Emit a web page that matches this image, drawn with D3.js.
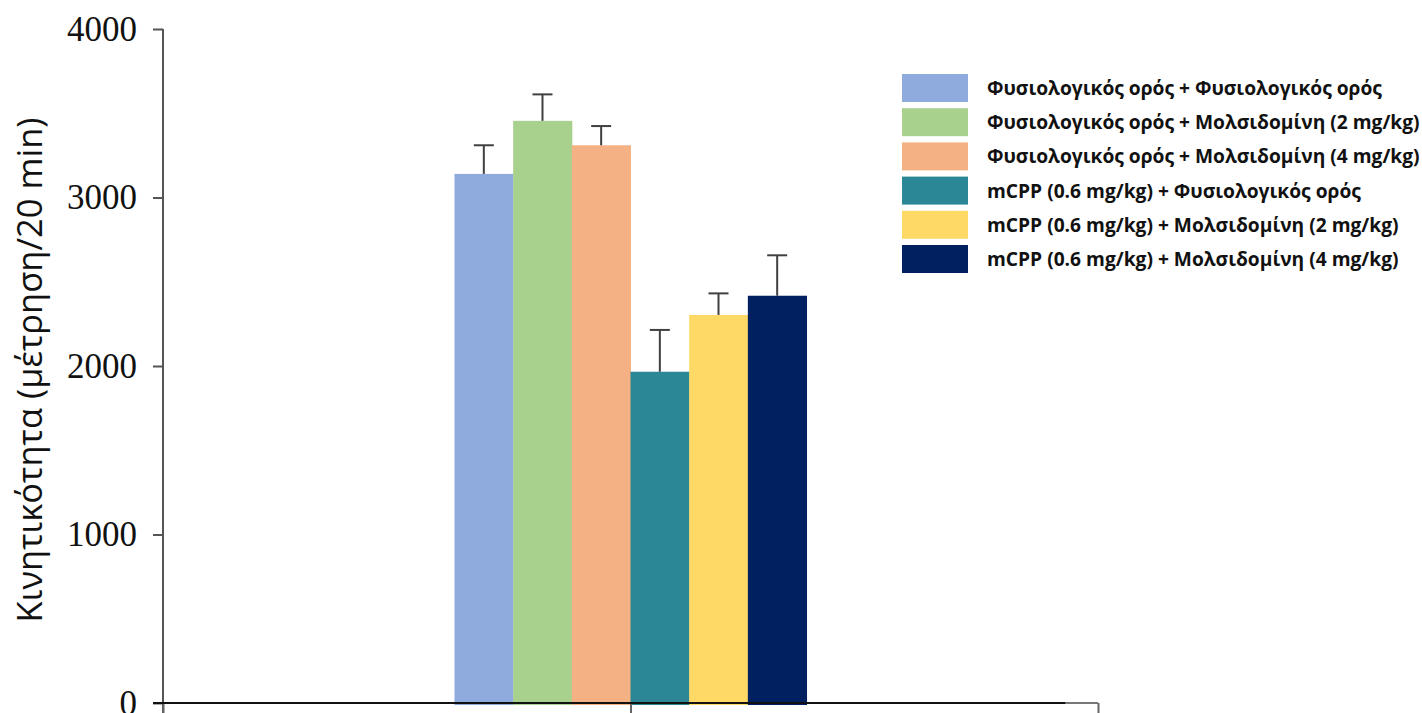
<!DOCTYPE html>
<html>
<head>
<meta charset="utf-8">
<script src="https://cdn.jsdelivr.net/npm/d3@7"></script>
<style>
  html, body { margin: 0; padding: 0; background: #ffffff; }
  svg { display: block; }
</style>
</head>
<body>
<svg id="chart" width="1422" height="713"></svg>
<script>
// Treatment groups, mean locomotor activity and SEM
const groups = [
  "Φυσιολογικός ορός + Φυσιολογικός ορός",
  "Φυσιολογικός ορός + Μολσιδομίνη (2 mg/kg)",
  "Φυσιολογικός ορός + Μολσιδομίνη (4 mg/kg)",
  "mCPP (0.6 mg/kg) + Φυσιολογικός ορός",
  "mCPP (0.6 mg/kg) + Μολσιδομίνη (2 mg/kg)",
  "mCPP (0.6 mg/kg) + Μολσιδομίνη (4 mg/kg)"
];
const means = [3140, 3455, 3310, 1966, 2303, 2417];
const sem = [170, 157, 114, 248, 128, 240];
const colors = ["#8FAADC", "#A9D18E", "#F4B183", "#2B8795", "#FFD966", "#002060"];
const yTicks = [0, 1000, 2000, 3000, 4000];
const yLabel = "Κινητικότητα (μέτρηση/20 min)";

const svg = d3.select("#chart");
const margin = { left: 163, right: 324, top: 29, bottom: 10 };
const W = 1422, H = 713;
const plotRight = W - margin.right;
const plotBottom = H - margin.bottom;

const y = d3.scaleLinear().domain([0, 4000]).range([plotBottom, margin.top]);
// outer category axis: three tick positions, the bar cluster sits on the middle one
const x0 = d3.scaleLinear().domain([0, 2]).range([margin.left, plotRight]);
const clusterWidth = (plotRight - margin.left) * 0.3765;
const x = d3.scaleBand()
  .domain(groups)
  .range([x0(1) - clusterWidth / 2, x0(1) + clusterWidth / 2])
  .padding(0);

// bars
svg.append("g").selectAll("rect")
  .data(groups)
  .join("rect")
  .attr("x", d => x(d))
  .attr("width", x.bandwidth() + 0.5)
  .attr("y", (d, i) => y(means[i]))
  .attr("height", (d, i) => y(0) - y(means[i]) + 2)
  .attr("fill", (d, i) => colors[i]);

// upper error whiskers
const err = svg.append("g").attr("stroke", "#404040").attr("stroke-width", 2);
groups.forEach((g, i) => {
  const cx = x(g) + x.bandwidth() / 2;
  err.append("line")
    .attr("x1", cx).attr("x2", cx)
    .attr("y1", y(means[i])).attr("y2", y(means[i] + sem[i]));
  err.append("line")
    .attr("x1", cx - 10).attr("x2", cx + 10)
    .attr("y1", y(means[i] + sem[i])).attr("y2", y(means[i] + sem[i]));
});

// y axis
const yAxis = svg.append("g")
  .attr("transform", `translate(${margin.left},0)`)
  .call(d3.axisLeft(y).tickValues(yTicks).tickSize(10).tickPadding(16).tickFormat(d3.format("d")));
yAxis.select(".domain").attr("stroke", "#555").attr("stroke-width", 2)
  .attr("d", `M-0,${margin.top}V${H}`);
yAxis.selectAll(".tick line").attr("stroke", "#555").attr("stroke-width", 2);
yAxis.selectAll(".tick text")
  .attr("fill", "#111")
  .style("font-family", "'Liberation Serif', 'DejaVu Serif', serif")
  .style("font-size", "35px");

// x axis
const xAxis = svg.append("g")
  .attr("transform", `translate(0,${y(0)})`)
  .call(d3.axisBottom(x0).tickValues([0, 1, 2]).tickSize(12).tickFormat(""));
xAxis.select(".domain").attr("stroke", "#777").attr("stroke-width", 2)
  .attr("d", `M${margin.left},0H${plotRight}`);
xAxis.selectAll(".tick line").attr("stroke", "#666").attr("stroke-width", 2);
// dark baseline across the plot
svg.append("line")
  .attr("x1", margin.left - 10).attr("x2", x0(1.93))
  .attr("y1", y(0)).attr("y2", y(0))
  .attr("stroke", "#111").attr("stroke-width", 2.2);

// y axis title
svg.append("text")
  .attr("transform", `translate(42,${(y(0) + y(4000)) / 2 + 4}) rotate(-90)`)
  .attr("text-anchor", "middle")
  .style("font-family", "'Open Sans', 'Noto Sans', sans-serif")
  .style("font-size", "34.5px")
  .attr("fill", "#111")
  .text(yLabel);

// legend
const legend = svg.append("g").attr("transform", "translate(902,74)");
const item = legend.selectAll("g")
  .data(groups)
  .join("g")
  .attr("transform", (d, i) => `translate(0,${i * 34.2})`);
item.append("rect")
  .attr("width", 66).attr("height", 28)
  .attr("fill", (d, i) => colors[i]);
item.append("text")
  .attr("x", 85).attr("y", 14).attr("dy", "0.36em")
  .style("font-family", "'Open Sans', 'Noto Sans', sans-serif")
  .style("font-weight", "bold")
  .style("font-size", "19.2px")
  .attr("fill", "#111")
  .text(d => d);
</script>
</body>
</html>
